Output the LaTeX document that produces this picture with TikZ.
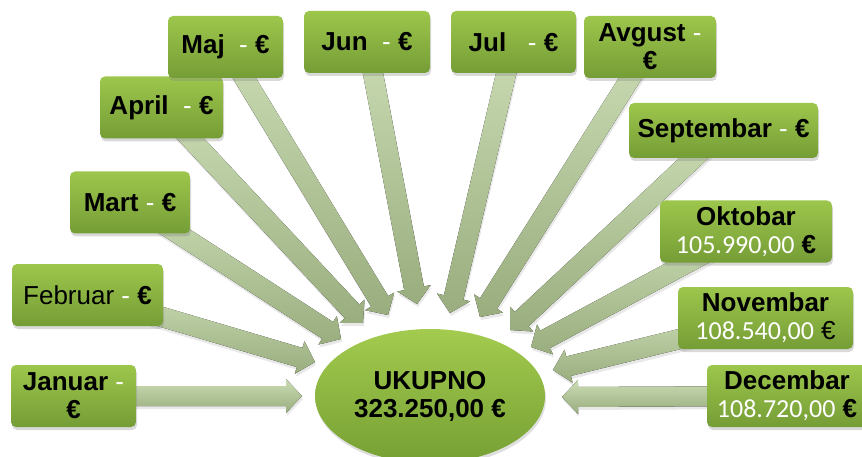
\documentclass[tikz,border=0pt]{standalone}
\usepackage{fontspec}
\setmainfont{Liberation Sans}
\newfontfamily\numfont{Carlito}
\usepackage{tikz}
\usetikzlibrary{calc, shapes, shadows, backgrounds}
\usepackage{xcolor}
\definecolor{boxtop}{HTML}{9DC64C}
\definecolor{boxbottom}{HTML}{759D36}
\definecolor{ovaltop}{HTML}{A3CB4F}
\definecolor{ovalbottom}{HTML}{76A033}
\definecolor{arrowlight}{HTML}{CBDCB4}
\definecolor{arrowdark}{HTML}{99AD7E}
\tikzstyle{month} = [rectangle, rounded corners=5pt, top color=boxtop, bottom color=boxbottom, minimum height=62pt, inner sep=2pt, align=center, drop shadow={opacity=0.3, shadow xshift=1pt, shadow yshift=-3pt}]
\tikzstyle{total} = [ellipse, top color=ovaltop, bottom color=ovalbottom, minimum width=230pt, minimum height=134pt, align=center, font=\fontsize{26}{28}\selectfont\bfseries, drop shadow={opacity=0.25, shadow xshift=1pt, shadow yshift=-3pt}]
\tikzstyle{arrow} = [top color=arrowlight, bottom color=arrowdark, drop shadow={opacity=0.18, shadow xshift=1pt, shadow yshift=-3pt}]
\newcommand{\dash}{\textcolor{white}{\mdseries -}}
\newcommand{\amount}[1]{{\numfont\textcolor{white}{#1}}}
\newcommand{\blockarrow}[2]{%
  \fill [arrow] let \p1 = ($(#2)-(#1.center)$), \n1 = {atan2(\y1,\x1)} in
    ($(#1.center)+(\n1+90:10pt)$) -- ($(#2)+(\n1+180:16pt)+(\n1+90:10pt)$)
    -- ($(#2)+(\n1+180:16pt)+(\n1+90:17pt)$) -- (#2)
    -- ($(#2)+(\n1+180:16pt)+(\n1-90:17pt)$) -- ($(#2)+(\n1+180:16pt)+(\n1-90:10pt)$)
    -- ($(#1.center)+(\n1-90:10pt)$) -- cycle;}

\begin{document}
\begin{tikzpicture}[x=1pt, y=-1pt, font=\fontsize{26}{28}\selectfont]
                \useasboundingbox (0,0) rectangle (862,457);
                % Create Blocks

                \node [month, minimum width=125pt] (jan) at (73.5,396) {\textbf{Januar} \dash\\\textbf{€}};
                \node [month, minimum width=151pt] (feb) at (87.5,295) {Februar \dash{} \textbf{€}};
                \node [month, minimum width=120pt] (mar) at (130,202.5) {\textbf{Mart} \dash{} \textbf{€}};
                \node [month, minimum width=123pt] (apr) at (161.5,107.5) {\textbf{April}\ \ \dash{} \textbf{€}};
                \node [month, minimum width=115pt] (maj) at (225.5,47) {\textbf{Maj}\ \ \dash{} \textbf{€}};
                \node [month, minimum width=126pt] (jun) at (367,42) {\textbf{Jun}\ \ \dash{} \textbf{€}};
                \node [month, minimum width=125pt] (jul) at (513.5,42) {\textbf{Jul}\ \ \ \dash{} \textbf{€}};
                \node [month, minimum width=132pt] (avg) at (650,47) {\textbf{Avgust} \dash\\\textbf{€}};
                \node [month, minimum width=189pt, minimum height=55pt] (sep) at (723.5,130.5) {\textbf{Septembar} \dash{} \textbf{€}};
                \node [month, minimum width=172pt] (okt) at (746,231.5) {\textbf{Oktobar}\\\amount{105.990,00} \textbf{€}};
                \node [month, minimum width=175pt] (nov) at (765.5,318) {\textbf{Novembar}\\\amount{108.540,00} €};
                \node [month, minimum width=160pt] (dec) at (787,396) {\textbf{Decembar}\\\amount{108.720,00} \textbf{€}};

                \node [total] (sum) at (430,396) {UKUPNO\\323.250,00 €};

                % Arrow tips
                \coordinate (tipJan) at (302,396);
                \coordinate (tipFeb) at (315,362);
                \coordinate (tipMar) at (341,339);
                \coordinate (tipApr) at (363,323);
                \coordinate (tipMaj) at (388,315);
                \coordinate (tipJun) at (417,304);
                \coordinate (tipJul) at (450,313);
                \coordinate (tipAvg) at (480,317);
                \coordinate (tipSep) at (510,330);
                \coordinate (tipOkt) at (531,347);
                \coordinate (tipNov) at (553,370);
                \coordinate (tipDec) at (562,397);

                % Add Arrows
                \begin{scope}[on background layer]
                \blockarrow{jan}{tipJan}
                \blockarrow{feb}{tipFeb}
                \blockarrow{mar}{tipMar}
                \blockarrow{apr}{tipApr}
                \blockarrow{maj}{tipMaj}
                \blockarrow{jun}{tipJun}
                \blockarrow{jul}{tipJul}
                \blockarrow{avg}{tipAvg}
                \blockarrow{sep}{tipSep}
                \blockarrow{okt}{tipOkt}
                \blockarrow{nov}{tipNov}
                \blockarrow{dec}{tipDec}
                \end{scope}
            \end{tikzpicture}
\end{document}
